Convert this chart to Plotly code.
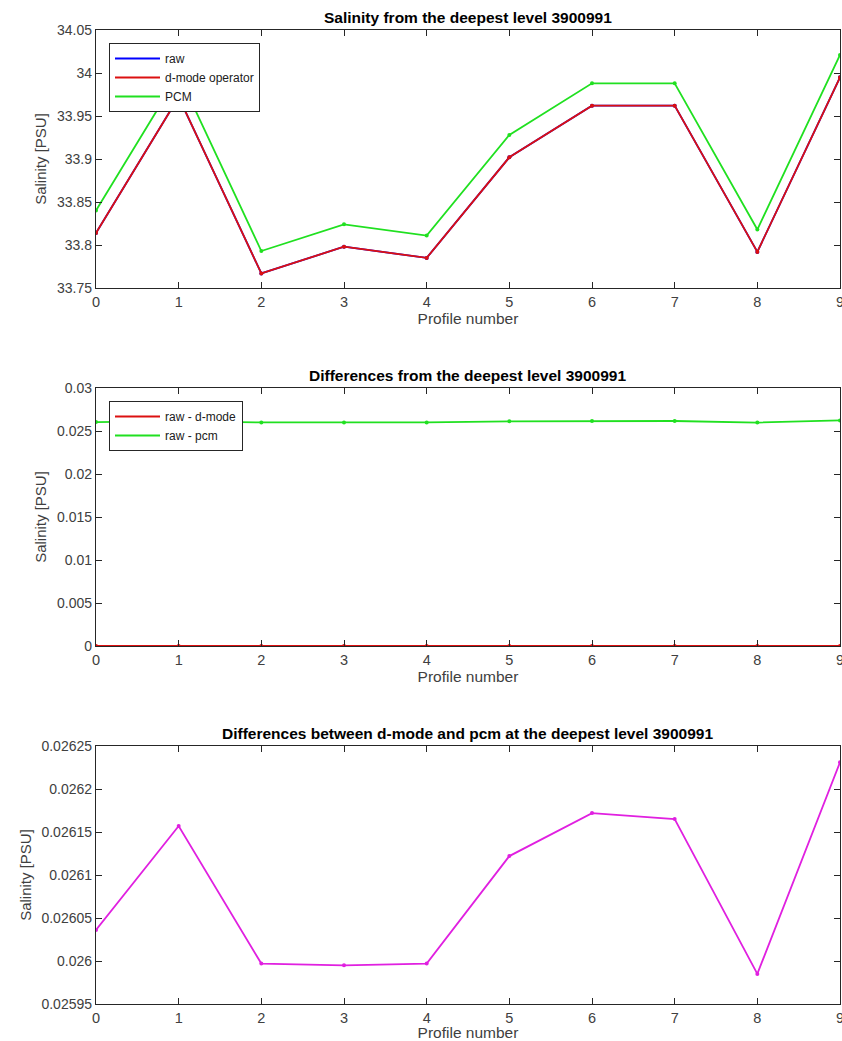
import plotly.graph_objects as go

profiles = [0, 1, 2, 3, 4, 5, 6, 7, 8, 9]

raw = [33.814, 33.972, 33.767, 33.798, 33.785, 33.902, 33.962, 33.962, 33.792, 33.995]
dmode = [33.814, 33.972, 33.767, 33.798, 33.785, 33.902, 33.962, 33.962, 33.792, 33.995]
pcm = [33.840, 33.998, 33.793, 33.824, 33.811, 33.928, 33.988, 33.988, 33.818, 34.021]

raw_minus_dmode = [0, 0, 0, 0, 0, 0, 0, 0, 0, 0]
raw_minus_pcm = [0.026036, 0.026157, 0.025997, 0.025995, 0.025997, 0.026122, 0.026172, 0.026165, 0.025985, 0.026231]

dmode_minus_pcm = [0.026036, 0.026157, 0.025997, 0.025995, 0.025997, 0.026122, 0.026172, 0.026165, 0.025985, 0.026231]

y1_ticks = [33.75, 33.8, 33.85, 33.9, 33.95, 34.0, 34.05]
y1_labels = ["33.75", "33.8", "33.85", "33.9", "33.95", "34", "34.05"]
y2_ticks = [0, 0.005, 0.01, 0.015, 0.02, 0.025, 0.03]
y2_labels = ["0", "0.005", "0.01", "0.015", "0.02", "0.025", "0.03"]
y3_ticks = [0.02595, 0.026, 0.02605, 0.0261, 0.02615, 0.0262, 0.02625]
y3_labels = ["0.02595", "0.026", "0.02605", "0.0261", "0.02615", "0.0262", "0.02625"]

titles = ["Salinity from the deepest level 3900991",
          "Differences from the deepest level 3900991",
          "Differences between d-mode and pcm at the deepest level 3900991"]

W, H = 842, 1041

def px(x):
    return x / W

def py(y):
    return 1 - y / H

xdom = [px(96), px(840)]
doms = [(30, 288), (388, 646), (746, 1004)]
ydoms = [[py(b), py(t)] for t, b in doms]

RED = "#DC1010"
GREEN = "#20E020"
BLUE = "#0000FF"
MAG = "#E020E0"
AX = "#262626"
TXT = "#404040"

fig = go.Figure()

def line(x, y, color, name, xa, ya, legend=None, show=True):
    fig.add_trace(go.Scatter(
        x=x, y=y, mode="lines", name=name,
        line=dict(color=color, width=1.8),
        xaxis=xa, yaxis=ya, legend=legend, showlegend=show))
    fig.add_trace(go.Scatter(
        x=x, y=y, mode="markers", name=name,
        marker=dict(color=color, size=4),
        xaxis=xa, yaxis=ya, showlegend=False, hoverinfo="skip"))

line(profiles, raw, BLUE, "raw", "x", "y", "legend")
line(profiles, dmode, RED, "d-mode operator", "x", "y", "legend")
line(profiles, pcm, GREEN, "PCM", "x", "y", "legend")
line(profiles, raw_minus_dmode, RED, "raw - d-mode", "x2", "y2", "legend2")
line(profiles, raw_minus_pcm, GREEN, "raw - pcm", "x2", "y2", "legend2")
line(profiles, dmode_minus_pcm, MAG, "d-mode - pcm", "x3", "y3", None, False)

font = dict(family="Liberation Sans, Arial, sans-serif", size=14, color=TXT)

def xax(anchor):
    return dict(domain=xdom, anchor=anchor, range=[0, 9], tickvals=profiles,
                ticktext=[str(p) for p in profiles], automargin=False,
                ticklabeloverflow="allow",
                showline=True, linecolor=AX, linewidth=1.3, mirror="ticks",
                ticks="inside", ticklen=6, tickcolor=AX, showgrid=False, zeroline=False,
                tickfont=dict(size=14.5, color=TXT),
                title=dict(text="Profile number", font=dict(size=15.5, color=TXT), standoff=4))

def yax(anchor, dom, rng, tv, tt):
    return dict(domain=dom, anchor=anchor, range=rng, tickvals=tv, ticktext=tt,
                automargin=False,
                showline=True, linecolor=AX, linewidth=1.3, mirror="ticks",
                ticks="inside", ticklen=6, tickcolor=AX, showgrid=False, zeroline=False,
                tickfont=dict(size=14, color=TXT),
                title=dict(text="Salinity [PSU]", font=dict(size=15, color=TXT), standoff=6))

fig.update_layout(
    width=W, height=H, margin=dict(l=0, r=0, t=0, b=0, autoexpand=False),
    paper_bgcolor="white", plot_bgcolor="white", font=font,
    xaxis=xax("y"), yaxis=yax("x", ydoms[0], [33.75, 34.05], y1_ticks, y1_labels),
    xaxis2=xax("y2"), yaxis2=yax("x2", ydoms[1], [0, 0.03], y2_ticks, y2_labels),
    xaxis3=xax("y3"), yaxis3=yax("x3", ydoms[2], [0.02595, 0.02625], y3_ticks, y3_labels),
    legend=dict(x=px(109), y=py(43), xanchor="left", yanchor="top",
                bgcolor="white", bordercolor=AX, borderwidth=1,
                font=dict(size=12, color="#202020"), tracegroupgap=0,
                itemwidth=45),
    legend2=dict(x=px(109), y=py(401), xanchor="left", yanchor="top",
                 bgcolor="white", bordercolor=AX, borderwidth=1,
                 font=dict(size=12, color="#202020"), tracegroupgap=0,
                 itemwidth=45),
)

title_y = [17, 375, 733]
for t, ty in zip(titles, title_y):
    fig.add_annotation(text="<b>" + t + "</b>", x=px((96 + 840) / 2), y=py(ty),
                       xref="paper", yref="paper", showarrow=False,
                       xanchor="center", yanchor="middle",
                       font=dict(size=15.5, color="#000000"))

fig.write_html("out.html", config={"displayModeBar": False},
               post_script="document.body.style.margin='0';document.body.style.overflow='hidden';")
